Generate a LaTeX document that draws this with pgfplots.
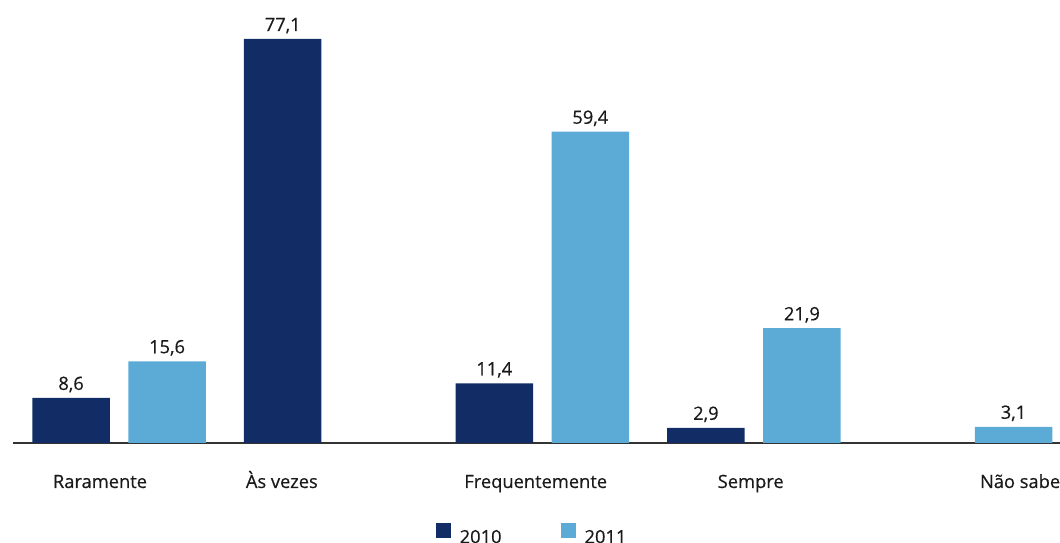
\documentclass[border=0pt]{standalone}
\usepackage{fontspec}
\setmainfont{Open Sans}
\newfontfamily\chartfont{Open Sans}[FakeBold=0.5]
\usepackage{pgfplots}
\pgfplotsset{compat=1.18}
\definecolor{navy}{HTML}{122C66}
\definecolor{lblue}{HTML}{5CABD6}
\definecolor{txt}{HTML}{1A1A1A}
\newcommand{\cf}{\chartfont\fontsize{18.3}{20}\selectfont}
\begin{document}
\begin{tikzpicture}
\useasboundingbox (0,0) rectangle (1060pt,543pt);
\begin{axis}[
  at={(13pt,100pt)}, anchor=south west,
  scale only axis,
  x=211.6pt, y=5.24pt,
  xmin=-0.5014, xmax=4.4466,
  ymin=0, ymax=84.5,
  clip=false,
  axis x line*=bottom,
  axis y line=none,
  x axis line style={-, draw=black!80, line width=1.3pt},
  xtick={-0.0903,0.769,1.969,2.985,4.258},
  xticklabels={Raramente, Às vezes, Frequentemente, Sempre, Não sabe},
  major tick length=0pt,
  xticklabel style={anchor=base, yshift=-45pt, font=\cf, text=txt},
  ybar, bar width=77.5pt,
  /pgf/number format/.cd, use comma, fixed, fixed zerofill, precision=1, assume math mode=true,
  /pgfplots/.cd,
  nodes near coords,
  every node near coord/.append style={anchor=base, yshift=8pt, font=\cf, text=txt},
  legend style={draw=none, fill=none, legend columns=2, at={(0.4948,-0.1765)}, anchor=north,
    font=\cf, text=txt,
    nodes={inner sep=0pt},
    /tikz/every odd column/.append style={column sep=9pt},
    /tikz/every even column/.append style={column sep=59pt}},
  legend image code/.code={\fill[#1] (0pt,-1pt) rectangle (15pt,14pt);},
]
\addplot[fill=navy, draw=none, bar shift=-48pt] coordinates {(0,8.6) (1,77.1) (2,11.4) (3,2.9)};
\addplot[fill=lblue, draw=none, bar shift=48pt] coordinates {(0,15.6) (2,59.4) (3,21.9) (4,3.1)};
\legend{2010,2011}
\end{axis}
\end{tikzpicture}
\end{document}
